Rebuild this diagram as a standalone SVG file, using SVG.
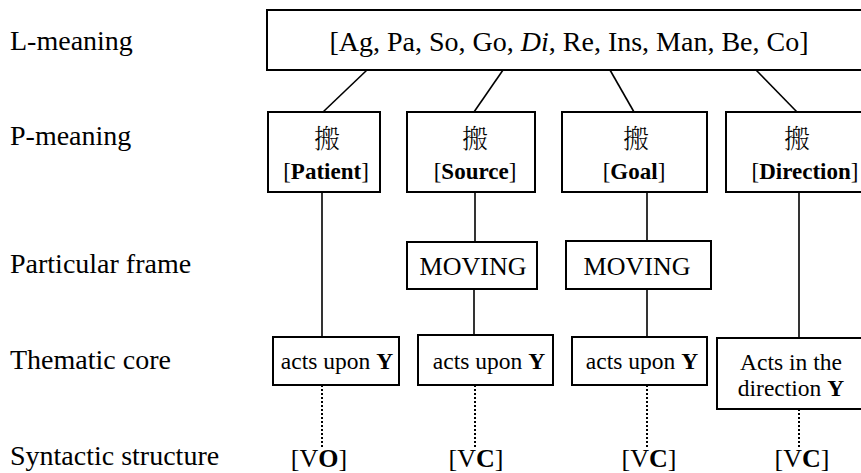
<svg xmlns="http://www.w3.org/2000/svg" width="861" height="473" viewBox="0 0 861 473" font-family="'Liberation Serif', 'Times New Roman', serif">
<style>
.t { font-family: "Liberation Serif", "Times New Roman", serif; fill: #000; }
.lbl { font-size: 28px; }
.top { font-size: 28px; }
.box { fill: #fff; stroke: #000; stroke-width: 2; }
.cjk { font-family: "Noto Serif CJK SC", "Noto Sans CJK SC", "Noto Sans CJK TC", serif; font-size: 26px; font-weight: 300; fill: #000; }
.role { font-size: 23px; }
.mv { font-size: 26px; }
.tc { font-size: 23.5px; }
.syn { font-size: 26px; }
.b { font-weight: bold; }
.i { font-style: italic; }
.ln { stroke: #000; stroke-width: 1.6; fill: none; }
.dot { stroke: #000; stroke-width: 2; stroke-dasharray: 2 2; fill: none; }
</style>
<rect width="861" height="473" fill="#fff"/>
<g id="labels">
<text class="t lbl" x="10" y="50">L-meaning</text>
<text class="t lbl" x="10" y="145">P-meaning</text>
<text class="t lbl" x="10" y="273">Particular frame</text>
<text class="t lbl" x="10" y="369">Thematic core</text>
<text class="t lbl" x="10" y="465">Syntactic structure</text>
</g>
<g id="connectors">
<line class="ln" x1="367" y1="70" x2="323" y2="112"/>
<line class="ln" x1="503" y1="70" x2="474" y2="112"/>
<line class="ln" x1="610" y1="70" x2="634" y2="112"/>
<line class="ln" x1="756" y1="70" x2="797" y2="112"/>
<line class="ln" x1="322" y1="192" x2="322" y2="337"/>
<line class="ln" x1="475" y1="192" x2="475" y2="242"/>
<line class="ln" x1="474" y1="289" x2="474" y2="335"/>
<line class="ln" x1="647" y1="192" x2="647" y2="241"/>
<line class="ln" x1="647" y1="289" x2="647" y2="337"/>
<line class="ln" x1="799" y1="192" x2="799" y2="338"/>
<line class="dot" x1="322" y1="385" x2="322" y2="447"/>
<line class="dot" x1="475" y1="385" x2="475" y2="447"/>
<line class="dot" x1="647" y1="385" x2="647" y2="447"/>
<line class="dot" x1="799" y1="409" x2="799" y2="447"/>
</g>
<g id="lmeaning">
<rect class="box" x="267" y="10" width="610" height="60"/>
<text class="t top" x="569" y="51" text-anchor="middle">[Ag, Pa, So, Go, <tspan class="i">Di</tspan>, Re, Ins, Man, Be, Co]</text>
</g>
<g id="p-patient">
<rect class="box" x="268" y="112" width="112" height="80"/>
<text class="cjk" x="327" y="148" text-anchor="middle">搬</text>
<text class="t role" x="326" y="179" text-anchor="middle">[<tspan class="b">Patient</tspan>]</text>
</g>
<g id="p-source">
<rect class="box" x="407" y="112" width="128" height="80"/>
<text class="cjk" x="475" y="148" text-anchor="middle">搬</text>
<text class="t role" x="475" y="179" text-anchor="middle">[<tspan class="b">Source</tspan>]</text>
</g>
<g id="p-goal">
<rect class="box" x="562" y="112" width="145" height="80"/>
<text class="cjk" x="636" y="148" text-anchor="middle">搬</text>
<text class="t role" x="634" y="179" text-anchor="middle">[<tspan class="b">Goal</tspan>]</text>
</g>
<g id="p-direction">
<rect class="box" x="726" y="112" width="150" height="80"/>
<text class="cjk" x="797" y="148" text-anchor="middle">搬</text>
<text class="t role" x="805" y="179" text-anchor="middle">[<tspan class="b">Direction</tspan>]</text>
</g>
<g id="frame-source">
<rect class="box" x="407" y="242" width="130" height="47"/>
<text class="t mv" x="473" y="275" text-anchor="middle">MOVING</text>
</g>
<g id="frame-goal">
<rect class="box" x="566" y="241" width="145" height="48"/>
<text class="t mv" x="637" y="275" text-anchor="middle">MOVING</text>
</g>
<g id="core-patient">
<rect class="box" x="273" y="337" width="126" height="48"/>
<text class="t tc" x="337" y="369" text-anchor="middle">acts upon <tspan class="b">Y</tspan></text>
</g>
<g id="core-source">
<rect class="box" x="418" y="335" width="135" height="50"/>
<text class="t tc" x="489" y="369" text-anchor="middle">acts upon <tspan class="b">Y</tspan></text>
</g>
<g id="core-goal">
<rect class="box" x="572" y="337" width="135" height="48"/>
<text class="t tc" x="642" y="369" text-anchor="middle">acts upon <tspan class="b">Y</tspan></text>
</g>
<g id="core-direction">
<rect class="box" x="717" y="338" width="160" height="71"/>
<text class="t tc" x="791" y="370" text-anchor="middle">Acts in the</text>
<text class="t tc" x="791" y="396" text-anchor="middle">direction <tspan class="b">Y</tspan></text>
</g>
<g id="syntax">
<text class="t syn" x="319" y="467" text-anchor="middle">[V<tspan class="b">O</tspan>]</text>
<text class="t syn" x="476" y="467" text-anchor="middle">[V<tspan class="b">C</tspan>]</text>
<text class="t syn" x="649" y="467" text-anchor="middle">[V<tspan class="b">C</tspan>]</text>
<text class="t syn" x="802" y="467" text-anchor="middle">[V<tspan class="b">C</tspan>]</text>
</g>
</svg>
